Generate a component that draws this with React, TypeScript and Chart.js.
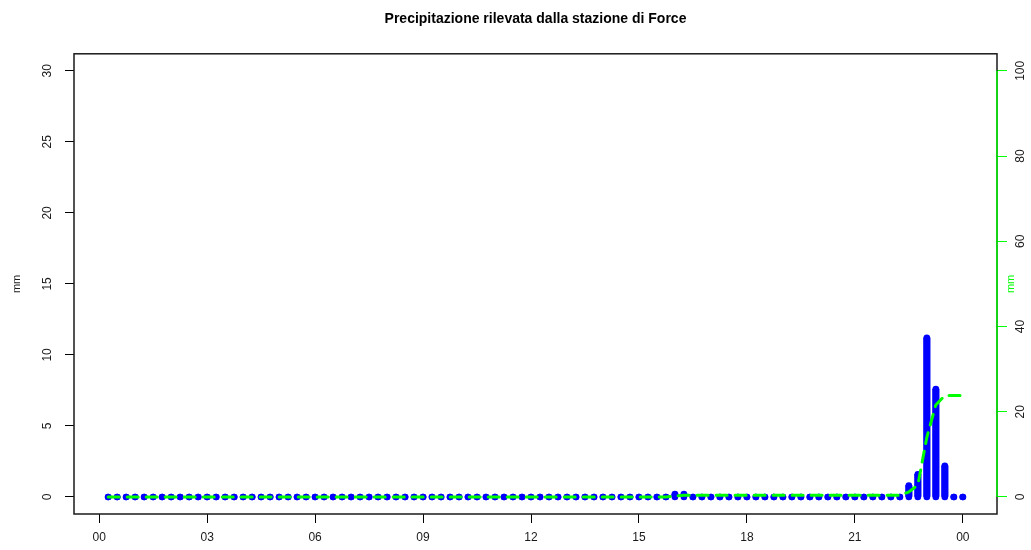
import React, { useEffect, useRef } from "react";
import { Chart, registerables } from "chart.js";

Chart.register(...registerables);

const TITLE = "Precipitazione rilevata dalla stazione di Force";
const Y_TITLE = "mm";
const Y2_TITLE = "mm";

// 15-minute rainfall (mm), from 00:15 to 24:00 (12 values per 3 hours)
const rain = [
  0, 0, 0, 0, 0, 0, 0, 0, 0, 0, 0, 0,
  0, 0, 0, 0, 0, 0, 0, 0, 0, 0, 0, 0,
  0, 0, 0, 0, 0, 0, 0, 0, 0, 0, 0, 0,
  0, 0, 0, 0, 0, 0, 0, 0, 0, 0, 0, 0,
  0, 0, 0, 0, 0, 0, 0, 0, 0, 0, 0, 0,
  0, 0, 0, 0.2, 0.2, 0, 0, 0, 0, 0, 0, 0,
  0, 0, 0, 0, 0, 0, 0, 0, 0, 0, 0, 0,
  0, 0, 0, 0, 0, 0.8, 1.6, 11.2, 7.6, 2.2, 0, 0,
];

// cumulative rainfall (mm), right axis
const cumulative = [
  0, 0, 0, 0, 0, 0, 0, 0, 0, 0, 0, 0,
  0, 0, 0, 0, 0, 0, 0, 0, 0, 0, 0, 0,
  0, 0, 0, 0, 0, 0, 0, 0, 0, 0, 0, 0,
  0, 0, 0, 0, 0, 0, 0, 0, 0, 0, 0, 0,
  0, 0, 0, 0, 0, 0, 0, 0, 0, 0, 0, 0,
  0, 0, 0, 0.2, 0.4, 0.4, 0.4, 0.4, 0.4, 0.4, 0.4, 0.4,
  0.4, 0.4, 0.4, 0.4, 0.4, 0.4, 0.4, 0.4, 0.4, 0.4, 0.4, 0.4,
  0.4, 0.4, 0.4, 0.4, 0.4, 1.2, 2.8, 14.0, 21.6, 23.8, 23.8, 23.8,
];

// sample times in hours (every 15 minutes)
const hours = rain.map((_, i) => (i + 1) * 0.25);

const xTickValues = [0, 3, 6, 9, 12, 15, 18, 21, 24];
const xTickLabels = ["00", "03", "06", "09", "12", "15", "18", "21", "00"];
const leftTicks = [0, 5, 10, 15, 20, 25, 30];
const rightTicks = [0, 20, 40, 60, 80, 100];

const FONT = "'Liberation Sans', Arial, Helvetica, sans-serif";
const BLUE = "#0000ff";
const GREEN = "#00ff00";
const TEXT = "#1a1a1a";

export default function App() {
  const ref = useRef<HTMLCanvasElement | null>(null);

  useEffect(() => {
    const canvas = ref.current;
    if (!canvas) return;

    const framePlugin = {
      id: "rframe",
      beforeDraw(chart: any) {
        const c = chart.ctx;
        c.save();
        c.fillStyle = "#ffffff";
        c.fillRect(0, 0, chart.width, chart.height);
        c.restore();
      },
      afterDraw(chart: any) {
        const c = chart.ctx;
        const a = chart.chartArea;
        const y2 = chart.scales.y2;
        c.save();
        c.strokeStyle = "#1a1a1a";
        c.lineWidth = 1.5;
        c.strokeRect(a.left, a.top, a.right - a.left, a.bottom - a.top);
        c.strokeStyle = GREEN;
        c.lineWidth = 1.5;
        c.beginPath();
        c.moveTo(a.right, y2.getPixelForValue(rightTicks[0]));
        c.lineTo(a.right, y2.getPixelForValue(rightTicks[rightTicks.length - 1]));
        c.stroke();
        c.fillStyle = GREEN;
        c.font = `11px ${FONT}`;
        c.textAlign = "center";
        c.textBaseline = "middle";
        c.translate(a.right + 14, (a.top + a.bottom) / 2);
        c.rotate(-Math.PI / 2);
        c.fillText(Y2_TITLE, 0, 0);
        c.restore();
      },
    };

    const tickFont = { family: FONT, size: 12 };

    const chart = new Chart(canvas, {
      type: "bar",
      data: {
        datasets: [
          {
            type: "line",
            label: "cumulata",
            data: hours.map((h, i) => ({ x: h, y: cumulative[i] })),
            yAxisID: "y2",
            borderColor: GREEN,
            borderWidth: 3,
            borderDash: [11, 8],
            borderCapStyle: "round",
            pointRadius: 0,
            tension: 0,
            order: 0,
          } as any,
          {
            type: "scatter",
            label: "top",
            data: hours.map((h, i) => ({ x: h, y: rain[i] })),
            yAxisID: "y",
            pointRadius: 3.3,
            pointBorderWidth: 0,
            pointBackgroundColor: BLUE,
            backgroundColor: BLUE,
            order: 1,
          } as any,
          {
            type: "scatter",
            label: "base",
            data: hours.map((h) => ({ x: h, y: 0 })),
            yAxisID: "y",
            pointRadius: 3.3,
            pointBorderWidth: 0,
            pointBackgroundColor: BLUE,
            backgroundColor: BLUE,
            order: 1,
          } as any,
          {
            type: "bar",
            label: "pioggia",
            data: hours.map((h, i) => ({ x: h, y: rain[i] })),
            yAxisID: "y",
            backgroundColor: BLUE,
            borderWidth: 0,
            barThickness: 6.6,
            order: 2,
          } as any,
        ],
      },
      options: {
        animation: false,
        responsive: false,
        events: [],
        layout: { padding: 0 },
        plugins: {
          legend: { display: false },
          tooltip: { enabled: false },
          title: {
            display: true,
            text: TITLE,
            fullSize: false,
            color: "#000",
            font: { family: FONT, size: 14, weight: "bold" },
            padding: { top: 11, bottom: 26 },
          },
        },
        scales: {
          x: {
            type: "linear",
            min: -0.7,
            max: 24.95,
            offset: false,
            border: { display: false },
            grid: {
              offset: false,
              drawOnChartArea: false,
              drawTicks: true,
              tickLength: 9,
              tickColor: "#000",
              color: "#000",
            },
            ticks: {
              font: tickFont,
              color: TEXT,
              padding: 7,
              autoSkip: false,
              maxRotation: 0,
              minRotation: 0,
              callback: (v: any) => {
                const k = xTickValues.indexOf(Number(v));
                return k >= 0 ? xTickLabels[k] : "";
              },
            },
            afterBuildTicks: (s: any) => {
              s.ticks = xTickValues.map((v) => ({ value: v }));
            },
            afterFit: (s: any) => {
              s.height = 36;
            },
          },
          y: {
            type: "linear",
            position: "left",
            min: -1.2,
            max: 31.2,
            border: { display: false },
            grid: {
              drawOnChartArea: false,
              drawTicks: true,
              tickLength: 9,
              tickColor: "#000",
              color: "#000",
            },
            ticks: {
              font: tickFont,
              color: TEXT,
              padding: 11,
              minRotation: 90,
              maxRotation: 90,
              crossAlign: "center",
            },
            title: {
              display: true,
              text: Y_TITLE,
              color: TEXT,
              font: { family: FONT, size: 11 },
              padding: { top: 10, bottom: 0 },
            },
            afterBuildTicks: (s: any) => {
              s.ticks = leftTicks.map((v) => ({ value: v }));
            },
            afterFit: (s: any) => {
              s.width = 74;
            },
          },
          y2: {
            type: "linear",
            position: "right",
            min: -4,
            max: 104,
            border: { display: false },
            grid: {
              drawOnChartArea: false,
              drawTicks: true,
              tickLength: 10,
              tickColor: GREEN,
              color: GREEN,
            },
            ticks: {
              font: tickFont,
              color: TEXT,
              padding: 4,
              minRotation: 90,
              maxRotation: 90,
              crossAlign: "center",
            },
            afterBuildTicks: (s: any) => {
              s.ticks = rightTicks.map((v) => ({ value: v }));
            },
            afterFit: (s: any) => {
              s.width = 34;
            },
          },
        },
      } as any,
      plugins: [framePlugin],
    });

    return () => {
      chart.destroy();
    };
  }, []);

  return (
    <div style={{ position: "absolute", left: 0, top: 0, width: 1031, height: 550, background: "#fff" }}>
      <canvas ref={ref} width={1031} height={550} style={{ width: 1031, height: 550, display: "block" }} />
    </div>
  );
}
